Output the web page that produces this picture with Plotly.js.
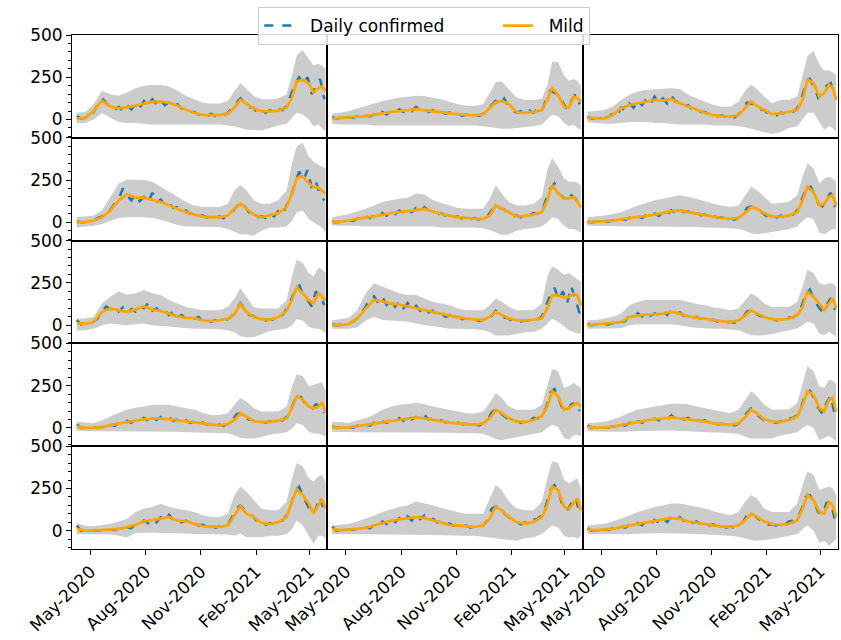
<!DOCTYPE html>
<html><head><meta charset="utf-8">
<script src="https://cdn.plot.ly/plotly-3.0.1.min.js"></script>
<style>html,body{margin:0;padding:0;background:#fff}#chart{width:841px;height:640px}</style>
</head><body><div id="chart"></div>
<script>
// Shared date grids
const gridDates = ['2020-04-08','2020-04-22','2020-05-06','2020-05-20','2020-06-03','2020-06-17','2020-07-01','2020-07-15','2020-07-29','2020-08-12','2020-08-26','2020-09-09','2020-09-23','2020-10-07','2020-10-21','2020-11-04','2020-11-18','2020-12-02','2020-12-16','2020-12-27','2021-01-06','2021-01-16','2021-01-28','2021-02-10','2021-02-24','2021-03-10','2021-03-24','2021-04-02','2021-04-10','2021-04-20','2021-04-30','2021-05-08','2021-05-16','2021-05-22','2021-05-28'];
const weekDates = ['2020-04-08','2020-04-15','2020-04-22','2020-04-29','2020-05-06','2020-05-13','2020-05-20','2020-05-27','2020-06-03','2020-06-10','2020-06-17','2020-06-24','2020-07-01','2020-07-08','2020-07-15','2020-07-22','2020-07-29','2020-08-05','2020-08-12','2020-08-19','2020-08-26','2020-09-02','2020-09-09','2020-09-16','2020-09-23','2020-09-30','2020-10-07','2020-10-14','2020-10-21','2020-10-28','2020-11-04','2020-11-11','2020-11-18','2020-11-25','2020-12-02','2020-12-09','2020-12-16','2020-12-23','2020-12-30','2021-01-06','2021-01-13','2021-01-20','2021-01-27','2021-02-03','2021-02-10','2021-02-17','2021-02-24','2021-03-03','2021-03-10','2021-03-17','2021-03-24','2021-03-31','2021-04-07','2021-04-14','2021-04-21','2021-04-28','2021-05-05','2021-05-12','2021-05-19','2021-05-26'];

const xTickVals = ['2020-05-01','2020-08-01','2020-11-01','2021-02-01','2021-05-01'];
const xTickText = ['May-2020','Aug-2020','Nov-2020','Feb-2021','May-2021'];
const seriesNames = ['Daily confirmed', 'Mild'];

// Row 1
const mildR1C1 = [5,8,50,112,76,66,72,82,96,104,106,100,82,58,40,28,26,26,35,70,116,95,66,50,48,52,70,130,225,235,215,160,185,195,170];
const upperR1C1 = [40,45,90,170,150,140,160,185,200,205,205,195,170,140,120,100,95,95,110,170,215,180,140,120,118,125,150,260,380,410,360,320,330,320,300];
const lowerR1C1 = [-20,-20,0,40,10,-15,-20,-20,-25,-30,-30,-30,-30,-30,-30,-30,-30,-30,-35,-40,-50,-60,-60,-65,-50,-35,-25,10,40,30,0,-40,-30,-50,-70];
const dailyR1C1 = [20,5,10,20,45,90,125,95,70,55,75,50,85,60,90,70,110,85,120,90,115,85,105,80,90,65,60,45,45,30,35,20,35,20,30,25,40,70,95,125,100,75,70,45,60,40,55,45,65,55,80,150,210,250,210,250,150,200,240,120];

const mildR1C2 = [5,8,12,16,20,28,38,45,50,55,62,55,50,45,38,30,26,25,30,70,100,110,92,42,40,45,56,116,186,146,76,70,136,126,106];
const upperR1C2 = [35,40,50,65,80,95,110,120,130,135,140,138,130,120,105,90,82,80,90,160,220,225,180,130,115,115,125,200,340,340,260,230,240,230,200];
const lowerR1C2 = [-25,-30,-30,-30,-30,-35,-35,-35,-35,-35,-35,-35,-35,-35,-35,-35,-35,-35,-40,-45,-50,-55,-55,-50,-45,-40,-30,0,30,20,-20,-40,-30,-50,-60];
const dailyR1C2 = [15,5,10,5,15,10,20,12,25,18,30,22,45,30,50,40,60,45,65,50,75,55,60,45,55,40,50,35,42,28,35,22,30,20,30,22,35,60,85,110,95,125,80,55,40,50,35,55,40,65,50,120,170,160,140,100,60,110,150,90];

const mildR1C3 = [10,6,6,26,66,86,96,106,116,112,122,96,76,56,40,26,20,16,26,66,106,80,56,32,36,46,56,116,236,216,136,156,206,186,116];
const upperR1C3 = [46,50,56,76,116,146,166,176,180,185,185,180,146,126,106,86,76,76,106,170,206,180,136,96,116,116,136,256,376,406,326,290,290,280,260];
const lowerR1C3 = [-15,-20,-25,-25,-20,-15,-15,-15,-20,-20,-25,-30,-30,-30,-30,-35,-35,-35,-40,-45,-55,-65,-75,-85,-75,-50,-40,0,40,40,-20,-60,-40,-50,-70];
const dailyR1C3 = [15,5,8,3,10,15,35,20,70,55,95,70,110,85,120,90,135,100,125,95,140,105,110,80,85,60,65,45,45,30,32,20,25,14,20,12,30,60,100,95,85,60,60,35,35,25,40,35,50,45,65,120,210,240,190,130,160,200,215,140];

// Row 2
const mildR2C1 = [0,2,10,30,70,130,166,146,146,134,120,100,80,60,46,34,30,30,40,80,110,80,46,30,40,54,90,170,260,275,230,210,205,190,170];
const upperR2C1 = [30,35,40,70,150,230,254,254,250,240,210,180,150,120,100,90,90,90,110,190,220,190,130,110,110,130,190,350,450,470,390,360,340,330,320];
const lowerR2C1 = [-30,-25,-20,-10,10,25,30,30,30,25,15,0,-15,-25,-25,-26,-26,-28,-40,-55,-70,-70,-80,-50,-30,-30,-25,10,60,70,20,0,-20,-30,-60];
const dailyR2C1 = [5,0,2,5,12,25,35,50,75,110,140,200,160,130,165,125,150,120,175,115,135,100,110,85,90,65,70,50,55,38,40,28,38,25,35,25,40,60,90,120,95,60,55,30,35,25,50,35,65,45,100,150,230,300,250,310,200,240,160,130];

const mildR2C2 = [0,4,10,20,30,34,46,54,60,66,74,80,65,50,40,30,26,20,20,40,100,80,60,34,38,46,60,130,220,170,140,140,150,120,90];
const upperR2C2 = [30,40,50,65,80,100,120,130,140,145,170,165,130,115,100,85,80,78,80,140,220,170,120,100,100,110,150,310,380,330,260,240,240,235,220];
const lowerR2C2 = [-20,-20,-20,-20,-25,-25,-25,-25,-25,-25,-25,-25,-25,-30,-30,-30,-30,-30,-35,-45,-60,-75,-70,-50,-40,-35,-25,0,30,20,-20,-40,-40,-50,-60];
const dailyR2C2 = [5,0,4,2,10,8,22,15,35,25,40,28,55,40,65,48,70,55,75,60,85,65,90,70,60,45,55,40,48,32,35,22,30,18,25,15,25,35,70,105,85,75,55,35,40,30,45,40,55,50,70,130,200,230,170,150,125,160,140,110];

const mildR2C3 = [0,2,6,10,18,24,30,40,46,54,66,70,60,50,40,34,26,20,26,54,90,80,54,34,34,40,60,130,210,180,100,110,150,160,100];
const upperR2C3 = [30,35,40,50,60,80,100,115,130,140,150,160,150,140,125,110,100,90,100,160,210,190,150,110,115,120,160,270,350,320,230,260,270,260,240];
const lowerR2C3 = [-20,-20,-20,-20,-20,-22,-24,-25,-25,-25,-25,-25,-25,-28,-30,-30,-32,-35,-40,-50,-65,-70,-65,-60,-50,-40,-25,10,30,20,-60,-70,-50,-40,-40];
const dailyR2C3 = [4,0,3,1,7,4,12,8,22,14,28,20,35,25,45,32,52,38,60,45,72,55,80,60,65,50,58,42,46,32,38,28,30,18,24,16,28,45,85,95,80,70,50,30,36,28,40,32,50,45,70,125,190,220,170,110,95,140,175,90];

// Row 3
const mildR3C1 = [12,8,18,78,98,88,78,92,112,92,84,68,52,44,42,28,24,28,38,64,124,78,48,36,32,48,84,148,224,188,148,128,188,168,148];
const upperR3C1 = [38,40,48,128,168,200,180,188,208,188,178,148,128,108,98,88,88,88,108,158,218,168,108,98,98,98,148,288,388,368,308,288,340,330,310];
const lowerR3C1 = [-32,-30,-22,0,10,5,0,5,10,0,-5,-10,-15,-20,-22,-22,-22,-25,-30,-42,-65,-72,-72,-52,-35,-28,-20,0,35,28,-10,-20,-22,-30,-50];
const dailyR3C1 = [30,5,10,8,20,40,85,110,95,115,80,105,70,95,80,115,100,130,85,100,75,90,60,80,45,60,40,50,38,48,25,32,20,30,22,35,35,55,90,130,95,60,55,40,38,28,35,30,55,60,95,150,200,240,170,150,110,200,170,120];

const mildR3C2 = [0,0,8,38,98,150,140,128,122,110,100,90,78,68,56,46,38,32,30,50,78,60,40,30,28,32,40,100,175,178,160,168,185,178,118];
const upperR3C2 = [28,35,44,88,188,248,228,208,188,178,178,158,138,128,118,98,88,88,88,118,158,138,108,88,88,90,128,288,348,328,298,308,288,270,260];
const lowerR3C2 = [-22,-22,-22,-12,28,48,30,28,25,20,10,0,-5,-15,-22,-22,-22,-25,-30,-42,-62,-62,-62,-52,-42,-40,-22,8,38,20,-10,-30,-40,-50,-50];
const dailyR3C2 = [5,0,2,3,10,20,40,70,110,160,170,130,165,120,150,110,140,100,130,95,115,85,100,75,85,60,70,50,60,40,50,35,42,28,35,25,32,30,55,85,65,45,40,25,30,22,30,25,38,35,50,110,180,220,150,200,130,230,150,70];

const mildR3C3 = [0,4,8,12,18,48,58,64,64,68,78,68,52,44,36,28,24,18,28,58,88,68,48,36,32,38,58,108,198,168,128,88,128,158,98];
const upperR3C3 = [28,30,38,50,68,118,138,148,148,148,150,148,138,125,118,105,98,88,98,148,188,168,128,108,108,108,138,228,328,308,248,238,248,248,230];
const lowerR3C3 = [-22,-22,-22,-20,-18,0,5,5,5,5,5,0,-10,-15,-20,-22,-22,-25,-30,-45,-60,-62,-60,-52,-40,-30,-20,0,20,10,-50,-60,-40,-55,-70];
const dailyR3C3 = [5,0,4,2,8,4,12,8,15,25,55,45,70,50,75,55,70,60,85,60,90,65,75,55,60,45,50,38,42,30,32,22,28,18,20,14,26,45,80,95,70,55,50,30,38,28,35,30,45,45,65,110,180,210,150,110,80,120,160,90];

// Row 4
const mildR4C1 = [7,0,0,3,17,27,37,43,51,57,57,51,43,37,31,27,19,15,23,47,87,67,41,35,35,43,57,117,187,167,127,117,127,147,97];
const upperR4C1 = [37,30,27,45,67,90,107,120,127,137,137,137,127,115,107,90,77,77,87,137,177,157,117,97,97,97,127,247,317,307,247,257,267,270,220];
const lowerR4C1 = [-17,-20,-20,-20,-20,-20,-22,-22,-22,-22,-22,-23,-23,-25,-27,-29,-29,-29,-32,-43,-58,-63,-63,-53,-40,-33,-25,-3,27,17,-23,-33,-33,-40,-50];
const dailyR4C1 = [20,0,2,0,3,0,6,4,20,12,30,22,42,30,50,36,60,42,70,48,65,50,60,42,50,35,45,30,38,25,32,20,25,14,20,12,25,40,80,90,70,50,45,30,40,30,40,35,50,45,65,105,170,200,160,130,110,140,130,90];

const mildR4C2 = [3,0,3,11,17,27,35,43,51,55,63,57,47,39,31,27,23,19,27,57,107,87,57,37,35,47,71,127,217,187,107,117,137,147,127];
const upperR4C2 = [37,33,31,45,57,80,107,125,137,142,147,140,127,117,107,97,87,85,97,147,207,177,127,107,107,107,137,247,347,337,237,247,267,250,240];
const lowerR4C2 = [-23,-25,-25,-25,-25,-25,-25,-25,-25,-25,-25,-25,-25,-27,-29,-30,-30,-32,-35,-50,-65,-73,-65,-53,-45,-35,-25,0,17,5,-60,-70,-45,-40,-50];
const dailyR4C2 = [10,0,2,0,5,2,14,8,20,14,30,22,40,30,48,38,58,42,80,50,65,55,75,50,55,40,45,32,38,26,30,22,25,16,22,15,28,45,90,115,90,70,55,33,40,30,45,38,60,55,85,120,210,230,170,110,95,140,150,100];

const mildR4C3 = [7,0,3,7,17,27,35,43,51,57,63,57,51,47,39,27,21,19,27,63,107,87,51,37,35,47,67,137,217,197,117,97,167,177,97];
const upperR4C3 = [27,30,37,50,67,90,107,118,127,135,143,143,140,127,117,107,97,87,107,167,217,187,137,107,107,110,147,267,367,337,247,237,287,280,260];
const lowerR4C3 = [-20,-22,-22,-22,-22,-20,-18,-15,-15,-15,-15,-18,-20,-22,-25,-27,-28,-30,-35,-50,-63,-63,-63,-63,-45,-35,-25,0,17,0,-73,-60,-45,-63,-80];
const dailyR4C3 = [15,0,2,0,4,2,10,6,20,14,30,22,40,30,50,35,55,45,65,50,75,55,70,50,60,45,52,40,45,32,30,22,25,16,22,15,25,50,90,115,85,65,48,30,38,30,40,38,55,60,75,130,200,220,180,120,85,150,190,70];

// Row 5
const mildR5C1 = [11,1,1,3,7,11,21,35,55,61,71,81,61,55,41,27,25,23,31,91,145,101,81,47,39,51,81,171,245,211,161,101,151,187,131];
const upperR5C1 = [45,30,27,33,41,55,71,111,131,141,160,141,131,121,111,91,81,81,101,211,261,231,181,131,121,121,171,311,401,381,311,291,321,331,291];
const lowerR5C1 = [-19,-19,-19,-19,-22,-30,-40,-13,-10,-10,-13,-13,-15,-17,-19,-19,-19,-19,-22,-29,-15,-39,-39,-39,-29,-29,-20,11,61,31,-29,-79,-29,-30,-49];
const dailyR5C1 = [30,0,1,0,2,0,4,2,8,5,12,8,20,15,40,30,60,45,70,50,80,60,95,65,75,50,60,45,50,32,35,22,30,18,25,18,35,80,130,150,120,95,85,55,50,35,45,40,60,60,90,150,230,260,200,150,100,130,200,110];

const mildR5C2 = [11,3,7,11,17,31,47,59,67,75,81,75,61,47,35,31,25,23,31,71,141,121,81,51,43,51,81,151,261,241,141,131,161,191,121];
const upperR5C2 = [31,35,41,55,71,90,111,125,141,150,175,161,151,135,121,110,101,101,101,191,271,241,171,131,121,121,171,311,411,401,301,281,301,311,251];
const lowerR5C2 = [-19,-20,-20,-20,-20,-20,-22,-22,-22,-22,-22,-22,-25,-27,-29,-29,-29,-29,-35,-40,-45,-50,-55,-59,-45,-39,-20,10,31,20,-29,-40,-35,-49,-30];
const dailyR5C2 = [25,0,3,1,8,4,12,8,20,14,35,25,55,40,65,50,75,55,85,60,100,70,90,65,70,50,55,40,42,30,36,24,30,18,26,18,32,60,130,145,120,100,85,55,50,38,50,45,65,70,95,150,240,270,230,140,120,160,200,100];

const mildR5C3 = [7,3,7,11,21,31,41,51,59,67,75,71,55,47,39,31,25,23,31,61,101,81,55,39,35,41,61,131,211,181,111,101,171,151,81];
const upperR5C3 = [31,35,41,55,71,90,111,125,141,150,161,161,151,140,131,115,101,91,111,171,211,191,131,111,111,111,161,271,351,331,241,251,261,251,211];
const lowerR5C3 = [-19,-20,-20,-20,-20,-20,-18,-15,-15,-15,-15,-15,-18,-20,-22,-25,-27,-29,-35,-45,-55,-59,-55,-49,-40,-30,-20,10,31,0,-69,-60,-89,-70,-49];
const dailyR5C3 = [15,0,3,1,8,4,14,10,25,18,35,25,45,32,55,40,65,48,72,52,85,60,80,58,65,45,55,40,45,32,38,25,30,18,25,18,30,50,90,110,85,65,52,35,38,30,40,35,55,60,75,125,200,210,170,110,95,165,170,60];

const panels = [
  {mild: mildR1C1, upper: upperR1C1, lower: lowerR1C1, daily: dailyR1C1},
  {mild: mildR1C2, upper: upperR1C2, lower: lowerR1C2, daily: dailyR1C2},
  {mild: mildR1C3, upper: upperR1C3, lower: lowerR1C3, daily: dailyR1C3},
  {mild: mildR2C1, upper: upperR2C1, lower: lowerR2C1, daily: dailyR2C1},
  {mild: mildR2C2, upper: upperR2C2, lower: lowerR2C2, daily: dailyR2C2},
  {mild: mildR2C3, upper: upperR2C3, lower: lowerR2C3, daily: dailyR2C3},
  {mild: mildR3C1, upper: upperR3C1, lower: lowerR3C1, daily: dailyR3C1},
  {mild: mildR3C2, upper: upperR3C2, lower: lowerR3C2, daily: dailyR3C2},
  {mild: mildR3C3, upper: upperR3C3, lower: lowerR3C3, daily: dailyR3C3},
  {mild: mildR4C1, upper: upperR4C1, lower: lowerR4C1, daily: dailyR4C1},
  {mild: mildR4C2, upper: upperR4C2, lower: lowerR4C2, daily: dailyR4C2},
  {mild: mildR4C3, upper: upperR4C3, lower: lowerR4C3, daily: dailyR4C3},
  {mild: mildR5C1, upper: upperR5C1, lower: lowerR5C1, daily: dailyR5C1},
  {mild: mildR5C2, upper: upperR5C2, lower: lowerR5C2, daily: dailyR5C2},
  {mild: mildR5C3, upper: upperR5C3, lower: lowerR5C3, daily: dailyR5C3}
];

const NROWS = 5, NCOLS = 3;
const FONT = 'DejaVu Sans';
const FS = 17;
const NB = '\u00a0';
// invisible padding so the legend entries sit where the reference has them
const legendLabel = (s, lead, trail) => NB.repeat(lead) + s + NB.repeat(trail);
const traces = [];
const layout = {
  width: 841, height: 640,
  margin: {l: 72, r: 3, t: 35, b: 91, autoexpand: false},
  paper_bgcolor: '#ffffff', plot_bgcolor: '#ffffff',
  font: {family: FONT, size: FS, color: '#000000'},
  showlegend: true,
  legend: {
    orientation: 'h', xref: 'container', yref: 'container',
    x: 0.5045, xanchor: 'center', y: 0.989, yanchor: 'top',
    bgcolor: 'rgba(255,255,255,0.85)', bordercolor: '#cccccc', borderwidth: 1,
    font: {family: FONT, size: FS, color: '#000000'},
    traceorder: 'normal'
  }
};

panels.forEach((p, i) => {
  const r = Math.floor(i / NCOLS), c = i % NCOLS;
  const sfx = i === 0 ? '' : String(i + 1);
  const xa = 'x' + sfx, ya = 'y' + sfx;
  traces.push({x: gridDates, y: p.lower, xaxis: xa, yaxis: ya, type: 'scatter', mode: 'lines',
    line: {width: 0, color: '#cccccc'}, showlegend: false, hoverinfo: 'skip'});
  traces.push({x: gridDates, y: p.upper, xaxis: xa, yaxis: ya, type: 'scatter', mode: 'lines',
    fill: 'tonexty', fillcolor: '#cccccc', line: {width: 0, color: '#cccccc'}, showlegend: false, hoverinfo: 'skip'});
  traces.push({x: weekDates, y: p.daily, xaxis: xa, yaxis: ya, type: 'scatter', mode: 'lines',
    name: legendLabel(seriesNames[0], 2, 9), legendgroup: 'daily', showlegend: i === 0,
    line: {color: '#1f77b4', width: 2.5, dash: 'dash'}});
  traces.push({x: gridDates, y: p.mild, xaxis: xa, yaxis: ya, type: 'scatter', mode: 'lines',
    name: legendLabel(seriesNames[1], 2, 0), legendgroup: 'mild', showlegend: i === 0,
    line: {color: '#ffa500', width: 2.8}});

  const bottom = r === NROWS - 1, left = c === 0;
  layout['xaxis' + sfx] = {
    domain: [c / NCOLS, (c + 1) / NCOLS], anchor: ya, type: 'date',
    range: ['2020-03-31', '2021-05-31'],
    tickmode: 'array', tickvals: xTickVals, ticktext: xTickText,
    showticklabels: bottom, ticks: bottom ? 'outside' : '', ticklen: 5, tickwidth: 1, tickcolor: '#000',
    tickangle: -45, tickfont: {family: FONT, size: FS, color: '#000'},
    showline: true, mirror: true, linecolor: '#000', linewidth: 1,
    showgrid: false, zeroline: false, automargin: false
  };
  const ycfg = {
    domain: [1 - (r + 1) / NROWS, 1 - r / NROWS], anchor: xa,
    range: [-108, 500], tickmode: 'linear', tick0: 0, dtick: 250,
    showticklabels: left, ticks: left ? 'outside' : '', ticklen: 5, tickwidth: 1, tickcolor: '#000',
    tickfont: {family: FONT, size: FS, color: '#000'},
    showline: true, mirror: true, linecolor: '#000', linewidth: 1,
    showgrid: false, zeroline: false, automargin: false
  };
  if (left) ycfg.minor = {tickmode: 'linear', tick0: 0, dtick: 50, ticks: 'outside', ticklen: 3, tickwidth: 1, tickcolor: '#000', showgrid: false};
  layout['yaxis' + sfx] = ycfg;
});

Plotly.newPlot('chart', traces, layout, {displayModeBar: false, staticPlot: true});
</script>
</body></html>
